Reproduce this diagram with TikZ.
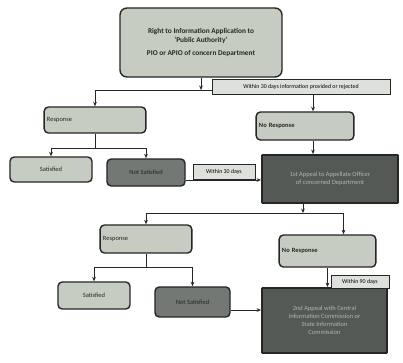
\documentclass[tikz,border=0pt]{standalone}
\usepackage{fontspec}
\setmainfont{Carlito}
\usetikzlibrary{arrows.meta}
\definecolor{paleface}{HTML}{C6CCC2}
\definecolor{midface}{HTML}{737874}
\definecolor{deepface}{HTML}{545956}
\definecolor{tagface}{HTML}{DEE1DB}
\definecolor{ink}{HTML}{252725}
\tikzset{
    box/.style={draw=ink, line width=1pt, rounded corners=3pt, fill=paleface,
        font=\fontsize{4.6}{5.6}\selectfont, inner sep=2pt, text=ink},
    leftbox/.style={box, align=left, text width=#1},
    shadebox/.style={box, fill=midface, text=ink},
    appeal/.style={box, fill=deepface, rounded corners=0.5pt, line width=1.3pt,
        text=white!55!deepface, align=center},
    tag/.style={draw=ink, line width=0.4pt, fill=tagface, inner sep=1pt,
        font=\fontsize{4.2}{5}\selectfont},
    flow/.style={draw=ink, line width=0.7pt, -{Stealth[length=3.2pt,width=2.6pt]}},
    wire/.style={draw=ink, line width=0.7pt}
}
\begin{document}
\begin{tikzpicture}[x=0.025cm, y=-0.025cm]
                \fill[white] (0,0) rectangle (403,363);
                \useasboundingbox (0,0) rectangle (403,363);
                \node[box, align=center, minimum width=4.05cm, minimum height=1.725cm, rounded corners=5pt,
                    font=\fontsize{5.2}{6.4}\selectfont\bfseries] (rti) at (201,42.5)
                    {Right to Information Application to\\`Public Authority'\\[3pt]PIO or APIO of concern Department};
                \node[leftbox=2.4cm, minimum height=0.65cm] (resA) at (95,120) {Response};
                \node[leftbox=2.3cm, minimum height=0.7cm, font=\fontsize{4.6}{5.6}\selectfont\bfseries] (nresA) at (305,126) {No Response};
                \node[box, minimum width=2.05cm, minimum height=0.625cm] (satA) at (51,169.5) {Satisfied};
                \node[shadebox, minimum width=1.95cm, minimum height=0.675cm] (nsatA) at (146,172.5) {Not Satisfied};
                \node[appeal, minimum width=3.4cm, minimum height=1.2cm] (appA) at (330,179)
                    {1st Appeal to Appellate Officer\\of concerned Department};
                \node[leftbox=2.15cm, minimum height=0.7cm] (resB) at (146,239) {Response};
                \node[leftbox=2.275cm, minimum height=0.8cm, font=\fontsize{4.6}{5.6}\selectfont\bfseries] (nresB) at (327.5,251) {No Response};
                \node[box, minimum width=1.8cm, minimum height=0.675cm] (satB) at (94,295.5) {Satisfied};
                \node[shadebox, minimum width=1.875cm, minimum height=0.75cm] (nsatB) at (192.5,302) {Not Satisfied};
                \node[appeal, minimum width=3.125cm, minimum height=1.625cm] (appB) at (324.5,320.5)
                    {2nd Appeal with Central\\Information Commission or\\State Information\\Commission};
                \coordinate (forkA) at (rti |- 0,90);
                \coordinate (forkB) at (resA |- 0,148);
                \coordinate (forkC) at (303,213);
                \coordinate (forkD) at (resB |- 0,267);
                \draw[flow] (rti) -- (forkA);
                \draw[flow] (forkA) -| (resA);
                \draw[flow] (forkA) -| ([xshift=8*0.025cm]nresA.north);
                \draw[wire] (resA) -- (forkB);
                \draw[flow] (forkB) -| (satA);
                \draw[flow] (forkB) -| (nsatA);
                \draw[flow] ([xshift=8*0.025cm]nresA.south) -- ([xshift=8*0.025cm]nresA.south |- appA.north);
                \draw[flow] (nsatA.east |- 0,180) -- (appA.west |- 0,180);
                \draw[flow] (appA.south -| forkC) -- (forkC);
                \draw[flow] (forkC) -| (resB);
                \draw[flow] (forkC) -| ([xshift=16*0.025cm]nresB.north);
                \draw[wire] (resB) -- (forkD);
                \draw[flow] (forkD) -| (satB);
                \draw[flow] (forkD) -| (nsatB);
                \draw[flow] (nresB) -- (nresB |- appB.north);
                \draw[flow] (nsatB.east |- 0,310) -- (appB.west |- 0,310);
                \node[tag, minimum width=4.45cm, minimum height=0.375cm] (daysA) at (301,86.5)
                    {Within 30 days information provided or rejected};
                \node[tag, minimum width=1.55cm, minimum height=0.375cm] (daysB) at (224,171.5) {Within 30 days};
                \node[tag, minimum width=1.45cm, minimum height=0.325cm] (daysC) at (360,282) {Within 90 days};
\end{tikzpicture}
\end{document}
